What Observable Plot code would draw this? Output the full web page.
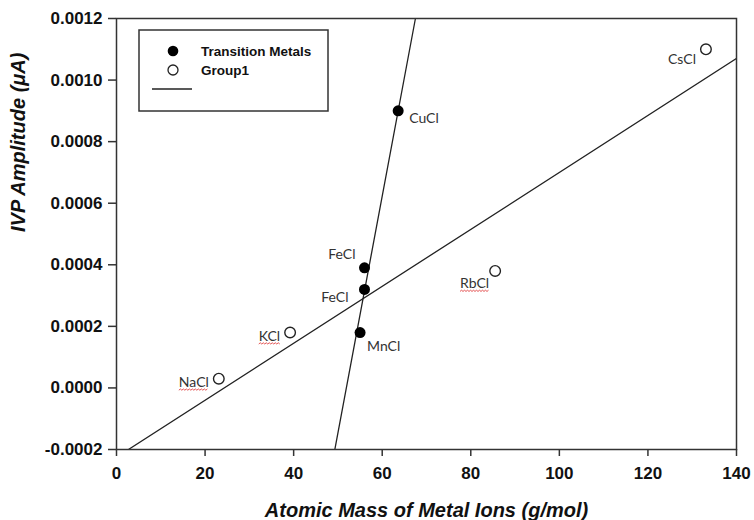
<!DOCTYPE html>
<html>
<head>
<meta charset="utf-8">
<script src="https://cdn.jsdelivr.net/npm/d3@7"></script>
<script src="https://cdn.jsdelivr.net/npm/@observablehq/plot@0.6"></script>
<style>
  html, body { margin: 0; padding: 0; background: #fff; }
  #chart { width: 754px; height: 520px; }
</style>
</head>
<body>
<div id="chart"></div>
<script>
// ---- data ----
const transNames = ["CuCl", "FeCl", "FeCl", "MnCl"];
const transMass  = [63.6, 56.0, 56.0, 55.0];
const transAmp   = [0.0009, 0.00039, 0.00032, 0.00018];

const g1Names = ["NaCl", "KCl", "RbCl", "CsCl"];
const g1Mass  = [23.1, 39.2, 85.5, 133.1];
const g1Amp   = [0.00003, 0.00018, 0.00038, 0.0011];

// fitted line endpoints
const transFitMass = [49.3, 67.5];
const transFitAmp  = [-0.0002, 0.0012];
const g1FitMass = [2.7, 140];
const g1FitAmp  = [-0.0002, 0.00107];

const xTicks = [0, 20, 40, 60, 80, 100, 120, 140];
const yTicks = [-0.0002, 0, 0.0002, 0.0004, 0.0006, 0.0008, 0.001, 0.0012];

const xTitle = "Atomic Mass of Metal Ions (g/mol)";
const yTitle = "IVP Amplitude (\u03BCA)";
const legendLabels = ["Transition Metals", "Group1"];

// ---- tables ----
const trans = transNames.map((n, i) => ({name: n, x: transMass[i], y: transAmp[i]}));
const g1 = g1Names.map((n, i) => ({name: n, x: g1Mass[i], y: g1Amp[i]}));
const transFit = transFitMass.map((m, i) => ({x: m, y: transFitAmp[i]}));
const g1Fit = g1FitMass.map((m, i) => ({x: m, y: g1FitAmp[i]}));

// label placement (style, not data)
const transLabelPos = [[11, 8, "start"], [-9, -13, "end"], [-16, 8, "end"], [7, 14, "start"]];
const g1LabelPos = [[-10, 4, "end"], [-10, 4, "end"], [-6, 13, "end"], [-10, 10, "end"]];

const labelFont = {fontFamily: "Lato", fontSize: 14, fontWeight: "normal", fill: "#333", lineAnchor: "middle"};

const labelMarks = [
  ...trans.map((d, i) => Plot.text([d], {x: "x", y: "y", text: "name", dx: transLabelPos[i][0], dy: transLabelPos[i][1], textAnchor: transLabelPos[i][2], ...labelFont})),
  ...g1.map((d, i) => Plot.text([d], {x: "x", y: "y", text: "name", dx: g1LabelPos[i][0], dy: g1LabelPos[i][1], textAnchor: g1LabelPos[i][2], ...labelFont}))
];

const chart = Plot.plot({
  width: 754,
  height: 520,
  marginLeft: 116,
  marginRight: 18,
  marginTop: 18,
  marginBottom: 71,
  style: {fontFamily: "Liberation Sans, Arial, sans-serif", fontSize: "17px", fontWeight: "bold", color: "#111", background: "#fff"},
  x: {domain: [0, 140]},
  y: {domain: [-0.0002, 0.0012]},
  marks: [
    Plot.line(transFit, {x: "x", y: "y", stroke: "#222", strokeWidth: 1.3, clip: true}),
    Plot.line(g1Fit, {x: "x", y: "y", stroke: "#222", strokeWidth: 1.3, clip: true}),
    Plot.frame({stroke: "#333", strokeWidth: 1.5}),
    Plot.axisX({ticks: xTicks, tickSize: 7, tickPadding: 10, tickFormat: d => String(d), label: null, stroke: "#333", strokeWidth: 1.5}),
    Plot.axisY({ticks: yTicks, tickSize: 8, tickPadding: 6, tickFormat: d => d.toFixed(4), label: null, stroke: "#333", strokeWidth: 1.5}),
    Plot.dot(trans, {x: "x", y: "y", r: 5.5, fill: "#000"}),
    Plot.dot(g1, {x: "x", y: "y", r: 5.3, fill: "#fff", stroke: "#222", strokeWidth: 1.4}),
    ...labelMarks,
    Plot.text([xTitle], {frameAnchor: "bottom", dy: 61, fontSize: 20, fontWeight: "bold", fontStyle: "italic", fill: "#111", lineAnchor: "middle"}),
    Plot.text([yTitle], {frameAnchor: "left", dx: -98, dy: -2, rotate: -90, fontSize: 20, fontWeight: "bold", fontStyle: "italic", fill: "#111", lineAnchor: "middle"})
  ]
});

document.getElementById("chart").appendChild(chart);

const svg = d3.select(chart);

// spell-check style wavy underline seen under some labels
svg.selectAll("text").filter(function () { return ["NaCl", "KCl", "RbCl"].includes(this.textContent); })
  .each(function () {
    const b = this.getBBox();
    const ctm = this.getCTM();
    const x0 = b.x + ctm.e, x1 = b.x + b.width + ctm.e;
    const yb = b.y + b.height + ctm.f;
    let dStr = `M${x0},${yb}`;
    let up = true;
    for (let x = x0 + 1.5; x <= x1; x += 1.5) { dStr += `L${x},${yb + (up ? -1.2 : 0)}`; up = !up; }
    svg.append("path").attr("d", dStr).attr("fill", "none").attr("stroke", "#e04040").attr("stroke-width", 0.9);
  });

// legend box inside the plot
const lg = svg.append("g").attr("font-family", "Liberation Sans, Arial, sans-serif").attr("font-weight", "bold").attr("font-size", 13.5).attr("text-anchor", "start");
lg.append("rect").attr("x", 139).attr("y", 30).attr("width", 189).attr("height", 81)
  .attr("fill", "#fff").attr("stroke", "#333").attr("stroke-width", 1.5);
lg.append("circle").attr("cx", 173).attr("cy", 51).attr("r", 5.3).attr("fill", "#000");
lg.append("circle").attr("cx", 173).attr("cy", 70).attr("r", 5).attr("fill", "#fff").attr("stroke", "#222").attr("stroke-width", 1.3);
lg.append("line").attr("x1", 152).attr("x2", 192).attr("y1", 89).attr("y2", 89).attr("stroke", "#222").attr("stroke-width", 1.3);
lg.append("text").attr("x", 201).attr("y", 51).attr("dy", "0.35em").attr("fill", "#111").text(legendLabels[0]);
lg.append("text").attr("x", 201).attr("y", 70).attr("dy", "0.35em").attr("fill", "#111").text(legendLabels[1]);
</script>
</body>
</html>
